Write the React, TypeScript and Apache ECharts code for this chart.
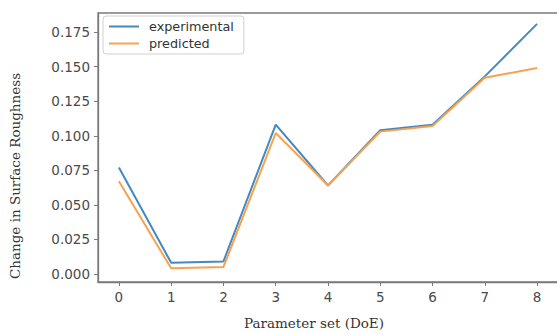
import React, { useEffect, useRef } from "react";
import * as echarts from "echarts";

const paramSets = [0, 1, 2, 3, 4, 5, 6, 7, 8];
const experimental = [0.077, 0.008, 0.009, 0.108, 0.064, 0.104, 0.108, 0.143, 0.181];
const predicted = [0.067, 0.004, 0.005, 0.102, 0.064, 0.103, 0.107, 0.142, 0.149];
const yTicks = [0, 0.025, 0.05, 0.075, 0.1, 0.125, 0.15, 0.175];
const xTitle = "Parameter set (DoE)";
const yTitle = "Change in Surface Roughness";

export default function App() {
  const ref = useRef<HTMLDivElement>(null);
  useEffect(() => {
    const chart = echarts.init(ref.current!, undefined, { renderer: "svg" });
    const tickFont = "'DejaVu Sans', sans-serif";
    const serif = "'DejaVu Serif', serif";
    chart.setOption({
      animation: false,
      backgroundColor: "#ffffff",
      grid: {
        left: 98,
        right: -1,
        top: 13,
        bottom: 52,
        show: true,
        borderColor: "#7a7a7a",
        borderWidth: 1.3,
        outerBoundsMode: "none",
      },
      legend: {
        orient: "vertical",
        left: 103,
        top: 16,
        padding: [4, 10, 4, 6],
        itemGap: 4,
        itemWidth: 30,
        itemHeight: 2,
        icon: "rect",
        borderColor: "#d0d0d0",
        borderWidth: 1,
        borderRadius: 3,
        backgroundColor: "#ffffff",
        textStyle: {
          fontFamily: tickFont,
          fontSize: 12.8,
          color: "#333",
          padding: [0, 0, 0, 5],
        },
        data: ["experimental", "predicted"],
      },
      graphic: [
        {
          type: "text",
          x: 314,
          y: 323,
          style: {
            text: xTitle,
            fontFamily: serif,
            fontSize: 13.5,
            fill: "#333",
            align: "center",
            verticalAlign: "middle",
          },
        },
        {
          type: "text",
          x: 15,
          y: 176,
          rotation: Math.PI / 2,
          style: {
            text: yTitle,
            fontFamily: serif,
            fontSize: 13.5,
            fill: "#333",
            align: "center",
            verticalAlign: "middle",
          },
        },
      ],
      xAxis: {
        type: "value",
        min: -0.4,
        max: 8.4,
        axisLine: { show: true, onZero: false, lineStyle: { color: "#7a7a7a", width: 1.3 } },
        axisTick: { show: true, length: 4, customValues: paramSets, lineStyle: { color: "#7a7a7a" } },
        axisLabel: {
          customValues: paramSets,
          margin: 8,
          fontFamily: tickFont,
          fontSize: 13.5,
          color: "#4a4a4a",
          formatter: (v: number) => String(v),
        },
        splitLine: { show: false },
      },
      yAxis: {
        type: "value",
        min: -0.0059,
        max: 0.1889,
        axisLine: { show: true, onZero: false, lineStyle: { color: "#7a7a7a", width: 1.3 } },
        axisTick: { show: true, length: 4, customValues: yTicks, lineStyle: { color: "#7a7a7a" } },
        axisLabel: {
          customValues: yTicks,
          margin: 8,
          fontFamily: tickFont,
          fontSize: 13.5,
          color: "#4a4a4a",
          formatter: (v: number) => v.toFixed(3),
        },
        splitLine: { show: false },
      },
      series: [
        {
          name: "experimental",
          type: "line",
          data: paramSets.map((x, i) => [x, experimental[i]]),
          showSymbol: false,
          symbol: "none",
          lineStyle: { color: "#4189c0", width: 2 },
          itemStyle: { color: "#4189c0" },
        },
        {
          name: "predicted",
          type: "line",
          data: paramSets.map((x, i) => [x, predicted[i]]),
          showSymbol: false,
          symbol: "none",
          lineStyle: { color: "#f7a24f", width: 2 },
          itemStyle: { color: "#f7a24f" },
        },
      ],
    });
    return () => chart.dispose();
  }, []);
  return (
    <div
      ref={ref}
      style={{ position: "fixed", left: 0, top: 0, width: 557, height: 334 }}
    />
  );
}
